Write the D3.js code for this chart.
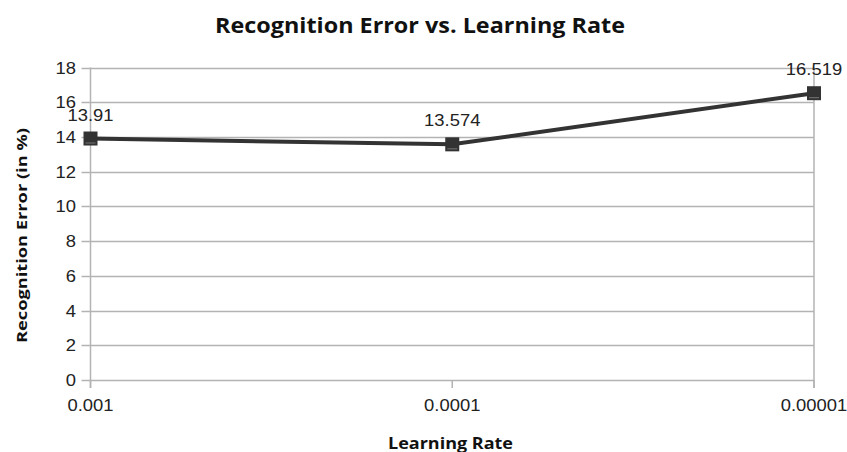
<!DOCTYPE html>
<html>
<head>
<meta charset="utf-8">
<script src="https://cdn.jsdelivr.net/npm/d3@7"></script>
<style>
  body { margin: 0; background: #fff; }
  svg { display: block; }
</style>
</head>
<body>
<div id="chart"></div>
<script>
// data
var rates = ["0.001", "0.0001", "0.00001"];
var errors = [13.91, 13.574, 16.519];
var yTicks = [0, 2, 4, 6, 8, 10, 12, 14, 16, 18];

var width = 847, height = 452;
var plotLeft = 90.5, plotRight = 814, plotTop = 67.5, plotBottom = 380;
var sx = 1.15; // text in the picture is a little wide

var svg = d3.select("#chart").append("svg")
    .attr("width", width)
    .attr("height", height);

var x = d3.scalePoint().domain(rates).range([plotLeft, plotRight]).padding(0);
var y = d3.scaleLinear().domain([0, 18]).range([plotBottom, plotTop]);

function wideText(g, tx, ty, s) {
    return g.append("text")
        .attr("transform", "translate(" + tx + "," + ty + ") scale(" + s + ",1)");
}

// grid lines
svg.append("g").selectAll("line")
    .data(yTicks)
    .join("line")
    .attr("x1", plotLeft - 9)
    .attr("x2", plotRight)
    .attr("y1", d => Math.round(y(d)) + 0.5)
    .attr("y2", d => Math.round(y(d)) + 0.5)
    .style("stroke", "#b3b3b3")
    .style("stroke-width", 1.5);

// y axis + right border
[plotLeft, plotRight].forEach(function (px) {
    svg.append("line")
        .attr("x1", px).attr("x2", px)
        .attr("y1", plotTop).attr("y2", plotBottom + 8)
        .style("stroke", "#b3b3b3")
        .style("stroke-width", 1.5);
});
// x tick marks
svg.append("g").selectAll("line")
    .data(rates)
    .join("line")
    .attr("x1", d => x(d)).attr("x2", d => x(d))
    .attr("y1", plotBottom).attr("y2", plotBottom + 8)
    .style("stroke", "#b3b3b3")
    .style("stroke-width", 1.5);

// y tick labels
var yl = svg.append("g")
    .style("font-family", "'Liberation Sans', Arial, sans-serif")
    .style("font-size", "16px")
    .style("fill", "#222");
yTicks.forEach(function (t) {
    wideText(yl, 76, y(t) + 6, sx)
        .attr("text-anchor", "end")
        .text(t);
});

// x tick labels
rates.forEach(function (r) {
    wideText(yl, x(r), 411, sx)
        .attr("text-anchor", "middle")
        .text(r);
});

// line
var pts = rates.map((r, i) => [x(r), y(errors[i])]);
svg.append("path")
    .attr("d", d3.line()(pts))
    .style("fill", "none")
    .style("stroke", "#333")
    .style("stroke-width", 4);

// markers
var ms = 14;
pts.forEach(function (p) {
    svg.append("rect")
        .attr("x", p[0] - ms / 2).attr("y", p[1] - ms / 2)
        .attr("width", ms).attr("height", ms)
        .style("fill", "#333");
    svg.append("line")
        .attr("x1", p[0] - ms / 2 + 2).attr("x2", p[0] + ms / 2 - 2)
        .attr("y1", p[1] + ms / 2 - 2.5).attr("y2", p[1] + ms / 2 - 2.5)
        .style("stroke", "#777")
        .style("stroke-width", 1);
});

// value labels
errors.forEach(function (e, i) {
    wideText(yl, x(rates[i]), y(e) - 18, sx)
        .attr("text-anchor", "middle")
        .text(e);
});

// titles
var tg = svg.append("g")
    .style("font-family", "'Open Sans', sans-serif")
    .style("font-weight", "bold")
    .style("fill", "#111");

tg.append("text")
    .attr("x", 420).attr("y", 33)
    .attr("text-anchor", "middle")
    .attr("textLength", 410)
    .attr("lengthAdjust", "spacingAndGlyphs")
    .style("font-size", "21px")
    .text("Recognition Error vs. Learning Rate");

tg.append("text")
    .attr("x", 450.5).attr("y", 449)
    .attr("text-anchor", "middle")
    .attr("textLength", 125)
    .attr("lengthAdjust", "spacingAndGlyphs")
    .style("font-size", "16px")
    .text("Learning Rate");

tg.append("text")
    .attr("transform", "translate(27,235.5) rotate(-90)")
    .attr("text-anchor", "middle")
    .attr("textLength", 215)
    .attr("lengthAdjust", "spacingAndGlyphs")
    .style("font-size", "15px")
    .text("Recognition Error (in %)");
</script>
</body>
</html>
